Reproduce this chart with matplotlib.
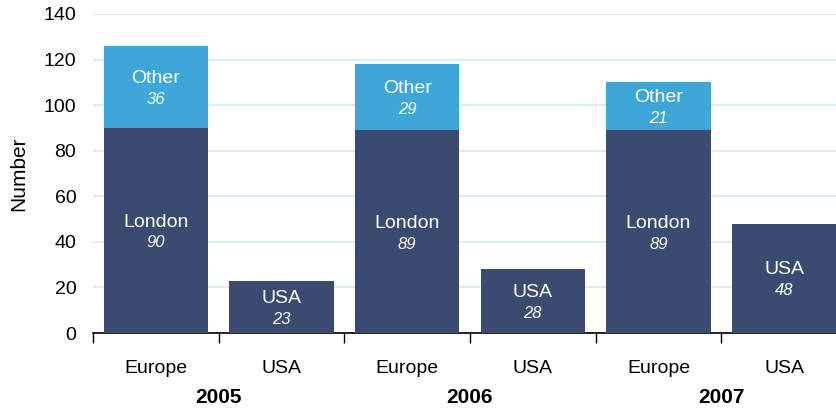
import matplotlib.pyplot as plt
import numpy as np

plt.rcParams['font.family'] = ['Liberation Sans', 'DejaVu Sans']

# data
years = ['2005', '2006', '2007']
cats = ['Europe', 'USA', 'Europe', 'USA', 'Europe', 'USA']
london = [90, 89, 89]
other = [36, 29, 21]
usa = [23, 28, 48]

dark = '#3B4A71'
light = '#3DA8D7'

fig = plt.figure(figsize=(8.36, 4.08), dpi=100)
ax = fig.add_axes([93/836, 75/408, 754/836, 319/408])

x = np.arange(6)
w = 0.83
eu_x = x[0::2]
us_x = x[1::2]

ax.bar(eu_x, london, width=w, color=dark, zorder=3)
ax.bar(eu_x, other, width=w, bottom=london, color=light, zorder=3)
ax.bar(us_x, usa, width=w, color=dark, zorder=3)


def label(xp, yc, name, val):
    ax.annotate(name, (xp, yc), xytext=(0, 6), textcoords='offset points',
                ha='center', va='center', color='white', fontsize=14, zorder=4)
    ax.annotate(str(val), (xp, yc), xytext=(0, -9), textcoords='offset points',
                ha='center', va='center', color='white', fontsize=12,
                style='italic', zorder=4)


for i in range(3):
    label(eu_x[i], london[i] / 2, 'London', london[i])
    label(eu_x[i], london[i] + other[i] / 2, 'Other', other[i])
    label(us_x[i], usa[i] / 2, 'USA', usa[i])

ax.set_xlim(-0.5, 5.5)
ax.set_ylim(0, 140)
ax.set_yticks(range(0, 141, 20))
ax.tick_params(axis='y', length=0, pad=12, labelsize=14)
ax.set_xticks(np.arange(-0.5, 5.5, 1))
ax.set_xticklabels([])
ax.tick_params(axis='x', length=7, width=1, color='black')
ax.yaxis.grid(True, color='#DCEBF6', linewidth=1.5, zorder=0)
ax.set_axisbelow(True)
for s in ['left', 'right', 'top']:
    ax.spines[s].set_visible(False)
ax.spines['bottom'].set_linewidth(1.2)

for i, c in enumerate(cats):
    ax.annotate(c, (x[i], 0), xycoords=('data', 'axes fraction'),
                xytext=(0, -25.5), textcoords='offset points',
                ha='center', va='center', fontsize=14)
for i, yr in enumerate(years):
    ax.annotate(yr, (2 * i + 0.5, 0), xycoords=('data', 'axes fraction'),
                xytext=(0, -46.5), textcoords='offset points',
                ha='center', va='center', fontsize=15, fontweight='bold')

ax.set_ylabel('Number', fontsize=15)
ax.yaxis.set_label_coords(-(93 - 28) / 754, 0.5)

fig.savefig('out.png', dpi=100)
